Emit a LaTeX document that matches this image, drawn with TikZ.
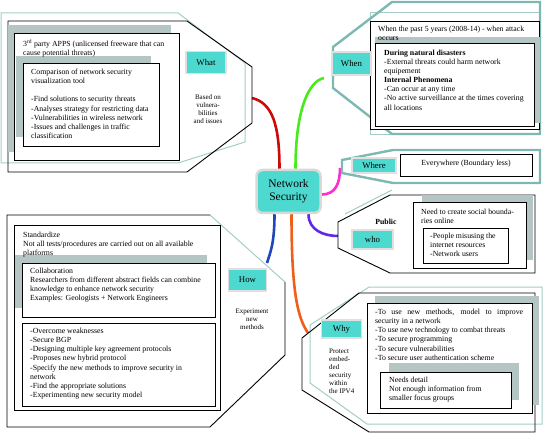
\documentclass[tikz,border=0pt]{standalone}
\usepackage{fontspec}
\setmainfont{Liberation Serif}
\usetikzlibrary{backgrounds}
\definecolor{lblteal}{RGB}{77,217,207}
\definecolor{shgray}{RGB}{180,197,195}
\definecolor{liteteal}{RGB}{165,205,200}
\definecolor{tealgray}{RGB}{125,185,178}
\definecolor{cred}{RGB}{205,10,10}
\definecolor{cgreen}{RGB}{70,235,25}
\definecolor{cpink}{RGB}{255,45,205}
\definecolor{cviolet}{RGB}{95,40,235}
\definecolor{corange}{RGB}{240,95,25}
\definecolor{cblue}{RGB}{30,70,190}
\begin{document}
\begin{tikzpicture}[x=1pt,y=-1pt,
	lbl/.style={fill=lblteal,draw=black!12,line width=1.5pt,inner sep=0pt,font=\fontsize{8.8}{10}\selectfont},
	txt/.style={anchor=north west,align=left,inner sep=0pt,font=\fontsize{7.8}{9.1}\selectfont},
	sml/.style={anchor=north,align=center,inner sep=0pt,font=\fontsize{7}{8.1}\selectfont},
	blk/.style={draw=black,line width=.9pt,fill=white},
	shd/.style={fill=shgray},
	lite/.style={draw=liteteal,line width=1pt},
	thk/.style={draw=tealgray,line width=2.4pt},
	conn/.style={line width=2.6pt}]
	\useasboundingbox (0,0) rectangle (544,433);
	% what
	\draw[lite] (1,13)--(178,13)--(245,63)--(245,142)--(178,163)--(1,163)--cycle;
	\draw[line width=.9pt] (8,21)--(187,21)--(252,67)--(252,123)--(187,172)--(8,172)--cycle;
	\fill[shd] (8,25) rectangle (171,152);
	\draw[blk] (14,33) rectangle (179,160);
	\fill[shd] (16,56) rectangle (151,137);
	\draw[blk] (23,63) rectangle (159,146);
	\node[txt] (whatA) at (23,39.5) {3\textsuperscript{rd} party APPS (unlicensed freeware that can\\cause potential threats)};
	\node[txt] (whatB) at (31,69) {Comparison of network security\\visualization tool\\[9.1pt]-Find solutions to security threats\\-Analyses strategy for restricting data\\-Vulnerabilities in wireless network\\-Issues and challenges in traffic\\classification};
	\node[lbl,minimum width=40,minimum height=22] (what) at (206,62.5) {What};
	\node[sml] (whatC) at (208,94.5) {Based on\\vulnera-\\bilities\\and issues};
	% when
	\draw[lite] (370,13) rectangle (540,135);
	\draw[thk] (333,47)--(392,2)--(540,2)--(540,134)--(392,134)--(333,88)--cycle;
	\draw[blk] (370,21) rectangle (539,129);
	\fill[shd] (375,37) rectangle (540,123);
	\draw[blk] (375,43) rectangle (534,126);
	\node[txt] (whenA) at (378,25.8) {When the past 5 years (2008-14) - when attack\\occurs};
	\node[txt] (whenB) at (384,49.8) {\textbf{During natural disasters}\\-External threats could harm network\\equipement\\\textbf{Internal Phenomena}\\-Can occur at any time\\-No active surveillance at the times covering\\all locations};
	\node[lbl,minimum width=39,minimum height=23] (when) at (351.5,63.5) {When};
	% where
	\draw[thk] (342,160)--(393,150)--(540,150)--(540,183)--(393,183)--(342,173)--cycle;
	\draw[blk] (400,154) rectangle (532,176);
	\node[txt,anchor=center] (whereA) at (466,164) {Everywhere (Boundary less)};
	\node[lbl,minimum width=44,minimum height=15] (where) at (374,165.5) {Where};
	% who
	\draw[lite] (345,214)--(392,190);
	\draw[line width=.9pt] (338,222)--(390,195)--(535,195)--(535,273)--(390,273)--(338,248)--cycle;
	\fill[shd] (422,195) rectangle (533,260);
	\draw[blk] (413,202) rectangle (526,268);
	\draw[blk] (423,228) rectangle (508,263);
	\node[txt] (whoA) at (421,208.5) {Need to create social bounda-\\ries online};
	\node[txt] (whoB) at (430,233) {-People misusing the\\internet resources\\-Network users};
	\node[txt,anchor=center] (pub) at (386,222) {\textbf{Public}};
	\node[lbl,minimum width=41,minimum height=19] (who) at (372.5,239.5) {who};
	% why
	\draw[lite] (310,383)--(310,325)--(369,287)--(542,287)--(542,424)--(367,424)--cycle;
	\draw[line width=.9pt] (302,338)--(359,293)--(535,293)--(535,432)--(369,432)--(302,390)--cycle;
	\fill[shd] (375,296) rectangle (539,405);
	\draw[blk] (367,303) rectangle (532,413);
	\fill[shd] (389,363) rectangle (519,400);
	\draw[blk] (380,372) rectangle (511,408);
	\node[txt] (whyA) at (375,309) {\makebox[148pt][s]{-To use new methods, model to improve}\\security in a network\\-To use new technology to combat threats\\-To secure programming\\-To secure vulnerabilities\\-To secure user authentication scheme};
	\node[txt] (whyB) at (389,377) {Needs detail\\Not enough information from\\smaller focus groups};
	\node[lbl,minimum width=40,minimum height=18] (why) at (341.5,329) {Why};
	\node[sml,anchor=north west,align=left] (whyC) at (329,348.5) {Protect\\embed-\\ded\\security\\within\\the IPV4};
	% how
	\draw[lite] (210,215)--(285,282);
	\draw[line width=.9pt] (285,282)--(285,355)--(210,427)--(7,427)--(7,215)--(210,215);
	\draw[blk] (14,225) rectangle (220,410);
	\fill[shd] (15,255) rectangle (207,308);
	\draw[blk] (22,263) rectangle (215,317);
	\draw[blk] (22,323) rectangle (215,406);
	\node[txt] (howA) at (23,231.5) {Standardize\\Not all tests/procedures are carried out on all available\\platforms};
	\node[txt] (howB) at (30,268) {Collaboration\\Researchers from different abstract fields can combine\\knowledge to enhance network security\\Examples: Geologists + Network Engineers};
	\node[txt] (howC) at (30,328) {-Overcome weaknesses\\-Secure BGP\\-Designing multiple key agreement protocols\\-Proposes new hybrid protocol\\-Specify the new methods to improve security in\\network\\-Find the appropriate solutions\\-Experimenting new security model};
	\node[lbl,minimum width=38,minimum height=22] (how) at (247.5,280) {How};
	\node[sml] (howD) at (252,308.5) {Experiment\\new\\methods};
	% centre and branches
	\node[fill=lblteal,draw=black!15,line width=2.5pt,rounded corners=6pt,minimum width=64,minimum height=43,align=center,inner sep=0pt,font=\fontsize{11.5}{13.5}\selectfont] (ns) at (288.5,191.5) {Network\\Security};
	\coordinate (whatin) at (252,98);
	\coordinate (whenin) at (324,78);
	\coordinate (wherein) at (340,168);
	\coordinate (whoin) at (338,236);
	\coordinate (whyin) at (308,333);
	\coordinate (howin) at (267,263);
	\begin{scope}[on background layer]
	\draw[conn,cred] ([xshift=-9pt]ns.north) .. controls +(0,-45) and +(20,5) .. (whatin);
	\draw[conn,cgreen] ([xshift=7pt]ns.north) .. controls +(0,-60) and +(-15,3) .. (whenin);
	\draw[conn,cpink] ([yshift=-3pt]ns.east) .. controls +(14,0) and +(0,15) .. (wherein);
	\draw[conn,cviolet] ([xshift=20pt]ns.south) .. controls +(0,16) and +(-14,0) .. (whoin);
	\draw[conn,corange] ([xshift=3pt]ns.south) .. controls +(0,80) and +(-10,-15) .. (whyin);
	\draw[conn,cblue] ([xshift=-14pt]ns.south) .. controls +(0,30) and +(3,-10) .. (howin);
	\end{scope}
\end{tikzpicture}
\end{document}
